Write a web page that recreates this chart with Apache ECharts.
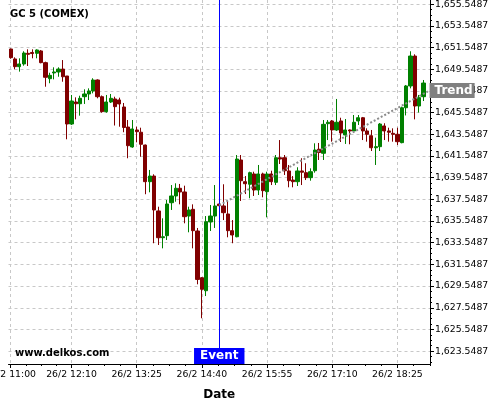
<!DOCTYPE html>
<html><head><meta charset="utf-8">
<script src="https://cdn.jsdelivr.net/npm/echarts@6/dist/echarts.min.js"></script>
<style>html,body{margin:0;padding:0;background:#fff}#c{width:500px;height:400px}</style>
</head><body><div id="c"></div>
<script>
const titleText = 'GC 5 (COMEX)';
const watermarkText = 'www.delkos.com';
const datePrefix = '26/2 ';
const times = [
'11:00','11:05','11:10','11:15','11:20','11:25','11:30','11:35','11:40','11:45','11:50','11:55',
'12:00','12:05','12:10','12:15','12:20','12:25','12:30','12:35','12:40','12:45','12:50','12:55',
'13:00','13:05','13:10','13:15','13:20','13:25','13:30','13:35','13:40','13:45','13:50','13:55',
'14:00','14:05','14:10','14:15','14:20','14:25','14:30','14:35','14:40','14:45','14:50','14:55',
'15:00','15:05','15:10','15:15','15:20','15:25','15:30','15:35','15:40','15:45','15:50','15:55',
'16:00','16:05','16:10','16:15','16:20','16:25','16:30','16:35','16:40','16:45','16:50','16:55',
'17:00','17:05','17:10','17:15','17:20','17:25','17:30','17:35','17:40','17:45','17:50','17:55',
'18:00','18:05','18:10','18:15','18:20','18:25','18:30','18:35','18:40','18:45','18:50','18:55'
];
const opens = [
1651.42,1650.50,1649.79,1650.04,1651.02,1651.10,1651.02,1651.24,1650.16,1648.68,1649.21,1649.30,
1649.57,1648.93,1644.50,1646.53,1646.37,1647.02,1647.27,1647.55,1648.56,1647.02,1645.64,1646.53,
1646.81,1646.72,1646.07,1644.22,1642.38,1643.95,1643.74,1642.56,1639.18,1639.70,1636.48,1634.01,
1634.20,1637.24,1637.86,1638.57,1638.23,1636.01,1636.63,1634.63,1630.32,1629.12,1635.46,1636.01,
1637.12,1636.94,1636.20,1634.66,1634.10,1641.18,1639.18,1638.94,1639.89,1638.41,1639.89,1638.26,
1639.89,1639.12,1641.39,1641.39,1640.17,1639.33,1639.18,1640.17,1640.01,1639.55,1640.19,1642.17,
1641.80,1644.53,1644.78,1643.95,1644.78,1643.49,1643.95,1643.86,1644.78,1645.08,1643.86,1643.42,
1642.31,1642.41,1644.32,1643.86,1643.64,1643.55,1642.78,1646.00,1648.01,1650.77,1646.16,1647.02
];
const closes = [
1650.62,1649.79,1650.04,1651.05,1650.93,1651.00,1651.33,1650.16,1648.81,1648.99,1649.30,1649.57,
1648.86,1644.50,1646.62,1646.37,1646.87,1647.27,1647.55,1648.56,1647.02,1645.64,1646.53,1646.87,
1646.10,1646.35,1644.18,1642.50,1644.04,1643.79,1642.63,1639.18,1639.70,1636.57,1634.01,1634.10,
1637.12,1637.86,1638.57,1638.23,1635.95,1636.57,1634.66,1630.16,1629.25,1635.49,1636.01,1636.94,
1636.96,1636.32,1634.66,1634.26,1641.27,1639.27,1638.99,1640.01,1638.41,1639.89,1638.35,1639.89,
1639.18,1641.39,1641.27,1640.19,1639.27,1639.18,1640.17,1640.05,1639.55,1640.10,1642.10,1641.87,
1644.47,1644.66,1643.95,1644.66,1643.67,1643.95,1643.86,1644.66,1645.08,1643.86,1643.55,1642.31,
1642.41,1644.50,1643.86,1643.74,1643.55,1642.87,1646.00,1648.01,1650.77,1646.16,1646.93,1648.28
];
const lows = [
1650.52,1649.55,1649.33,1649.88,1649.85,1650.56,1650.56,1650.10,1647.94,1648.26,1648.62,1648.86,
1648.40,1643.09,1644.41,1644.93,1645.27,1646.35,1646.71,1647.33,1646.87,1645.54,1645.54,1646.44,
1644.36,1644.25,1643.74,1641.34,1642.31,1642.81,1641.48,1638.02,1638.20,1633.50,1633.34,1633.03,
1633.80,1636.57,1637.33,1637.09,1635.34,1634.51,1633.03,1629.71,1626.58,1628.63,1634.63,1634.91,
1636.85,1635.64,1634.05,1633.50,1634.05,1637.40,1638.04,1637.65,1637.86,1637.95,1637.74,1635.89,
1638.87,1638.87,1640.81,1639.80,1638.66,1638.66,1638.78,1638.87,1639.33,1639.27,1640.01,1641.18,
1641.18,1643.02,1642.87,1643.86,1642.84,1642.66,1642.63,1643.79,1644.41,1643.02,1642.87,1642.01,
1640.72,1642.01,1643.02,1642.87,1642.87,1642.56,1642.72,1645.29,1647.79,1644.93,1645.56,1646.62
];
const highs = [
1651.45,1650.65,1650.56,1651.21,1651.39,1651.39,1651.39,1651.33,1650.25,1649.23,1649.73,1649.73,
1650.40,1648.93,1647.18,1646.96,1647.11,1647.70,1647.79,1648.72,1648.62,1647.13,1647.18,1647.27,
1647.02,1646.93,1646.44,1644.87,1644.87,1644.25,1644.16,1642.60,1640.26,1639.86,1636.87,1635.80,
1637.49,1638.87,1639.03,1638.97,1638.81,1636.87,1637.09,1634.91,1630.38,1636.01,1637.03,1638.87,
1637.21,1638.94,1637.43,1635.64,1641.64,1641.64,1639.70,1640.10,1640.10,1640.72,1640.01,1640.10,
1640.19,1641.64,1643.02,1641.64,1640.72,1639.70,1640.51,1641.34,1640.88,1640.41,1642.72,1642.75,
1644.87,1644.87,1644.87,1646.81,1645.08,1644.96,1644.00,1645.33,1645.33,1645.15,1644.10,1643.95,
1643.24,1644.59,1644.57,1644.16,1644.10,1644.16,1646.10,1648.10,1651.21,1650.93,1647.18,1648.56
];
const xLabelTimes = ['11:00','12:10','13:25','14:40','15:55','17:10','18:25'];
const yTicks = [1623.5487,1625.5487,1627.5487,1629.5487,1631.5487,1633.5487,1635.5487,1637.5487,
  1639.5487,1641.5487,1643.5487,1645.5487,1647.5487,1649.5487,1651.5487,1653.5487,1655.5487];
const yMin = 1622.36, yMax = 1655.94;
const eventTime = '15:00';
const eventText = 'Event';
const trendText = 'Trend';
const trendStartValue = 1637.0;
const trendEndValue = 1647.5;

const FONT = 'DejaVu Sans';
const cats = times.concat(['']);
const N = times.length;
const candleData = times.map((t, i) => [opens[i], closes[i], lows[i], highs[i]]);
const isMajor = (idx, val) => xLabelTimes.indexOf(val) >= 0;
const majorIdx = xLabelTimes.map(t => times.indexOf(t));
const minorX = [];
for (let k = 0; k < majorIdx.length - 1; k++) {
  const a = majorIdx[k], b = majorIdx[k + 1];
  for (let j = 1; j < 4; j++) minorX.push(a + (b - a) * j / 4);
}
const lastM = majorIdx[majorIdx.length - 1], stepM = (majorIdx[majorIdx.length - 1] - majorIdx[majorIdx.length - 2]) / 4;
for (let v = lastM + stepM; v <= N + 0.5; v += stepM) minorX.push(v);
const yMinor = [];
for (let v = yTicks[0] - 2; v <= yMax; v += 0.5) if (v >= yMin) yMinor.push(+v.toFixed(4));
const fmtY = v => Number(v).toLocaleString('en-US', {minimumFractionDigits: 4, maximumFractionDigits: 4});
const eventIdx = times.indexOf(eventTime);
const eventBottomValue = yMin + 16 * (yMax - yMin) / 364;

const trendLineStyle = {color: '#8c8c8c', width: 2, type: [2, 2], opacity: 1};
const chart = echarts.init(document.getElementById('c'), null, {renderer: 'canvas'});
chart.setOption({
  animation: false,
  backgroundColor: '#fff',
  title: [
    {text: titleText, left: 10, top: 9, padding: 0, textStyle: {fontFamily: FONT, fontSize: 10, fontWeight: 'bold', color: '#000'}},
    {text: watermarkText, left: 15, top: 348, padding: 0, textStyle: {fontFamily: FONT, fontSize: 10, fontWeight: 'bold', color: '#000'}}
  ],
  grid: {left: 8.5, right: 70, top: 0, bottom: 36, containLabel: false, outerBoundsMode: 'none'},
  xAxis: [
    {
      type: 'category', data: cats, boundaryGap: true, position: 'bottom',
      axisLine: {onZero: false, lineStyle: {color: '#000', width: 1}},
      axisTick: {show: true, interval: isMajor, alignWithLabel: true, length: 4, lineStyle: {color: '#000'}},
      axisLabel: {interval: isMajor, formatter: v => datePrefix + v, fontFamily: FONT, fontSize: 9.3, color: '#000', margin: 6, hideOverlap: false},
      splitLine: {show: true, interval: isMajor, alignWithLabel: true, lineStyle: {color: '#c8c8c8', type: [3, 3], width: 1}},
      name: 'Date', nameLocation: 'middle', nameGap: 25,
      nameTextStyle: {fontFamily: FONT, fontSize: 12, fontWeight: 'bold', color: '#000'}
    },
    {
      type: 'value', min: -0.5, max: N + 0.5, position: 'bottom',
      axisLine: {show: false, onZero: false},
      axisTick: {show: true, customValues: minorX, length: 2, lineStyle: {color: '#000'}},
      axisLabel: {show: false}, splitLine: {show: false}
    }
  ],
  yAxis: [
    {
      type: 'value', position: 'right', min: yMin, max: yMax, scale: true,
      axisLine: {show: true, onZero: false, lineStyle: {color: '#000', width: 1}},
      axisTick: {show: true, customValues: yMinor, length: 2, lineStyle: {color: '#000'}},
      axisLabel: {show: false}, splitLine: {show: false}
    },
    {
      type: 'value', position: 'right', min: yMin, max: yMax, scale: true,
      axisLine: {show: false, onZero: false},
      axisTick: {show: true, customValues: yTicks, length: 4, lineStyle: {color: '#000'}},
      axisLabel: {show: true, customValues: yTicks, formatter: fmtY, fontFamily: FONT, fontSize: 9.3, color: '#000', margin: 5},
      splitLine: {show: true, lineStyle: {color: '#c8c8c8', type: [3, 3], width: 1}}
    }
  ],
  series: [{
    type: 'candlestick', xAxisIndex: 0, yAxisIndex: 0, clip: false,
    data: candleData, barWidth: 3.7,
    itemStyle: {color: '#008000', color0: '#800000', borderColor: '#008000', borderColor0: '#800000', borderWidth: 1},
    markLine: {
      silent: true, animation: false, symbol: ['none', 'none'],
      lineStyle: trendLineStyle,
      emphasis: {disabled: true},
      data: [
        [
          {coord: [eventIdx, eventBottomValue], lineStyle: {color: '#0000ff', width: 1, type: 'solid'},
           label: {show: true, position: 'start', distance: 0, formatter: eventText, color: '#fff', fontFamily: FONT, fontWeight: 'bold', fontSize: 12, backgroundColor: '#0000ff', padding: [2, 6, 2, 6]}},
          {coord: [eventIdx, yMax]}
        ],
        [
          {coord: [eventIdx, trendStartValue], lineStyle: trendLineStyle,
           label: {show: true, position: 'end', distance: 2, formatter: trendText, color: '#fff', fontFamily: FONT, fontWeight: 'bold', fontSize: 12, backgroundColor: '#808080', padding: [2, 2, 1, 5]}},
          {coord: [N, trendEndValue]}
        ]
      ]
    }
  }]
});
</script>
</body></html>
